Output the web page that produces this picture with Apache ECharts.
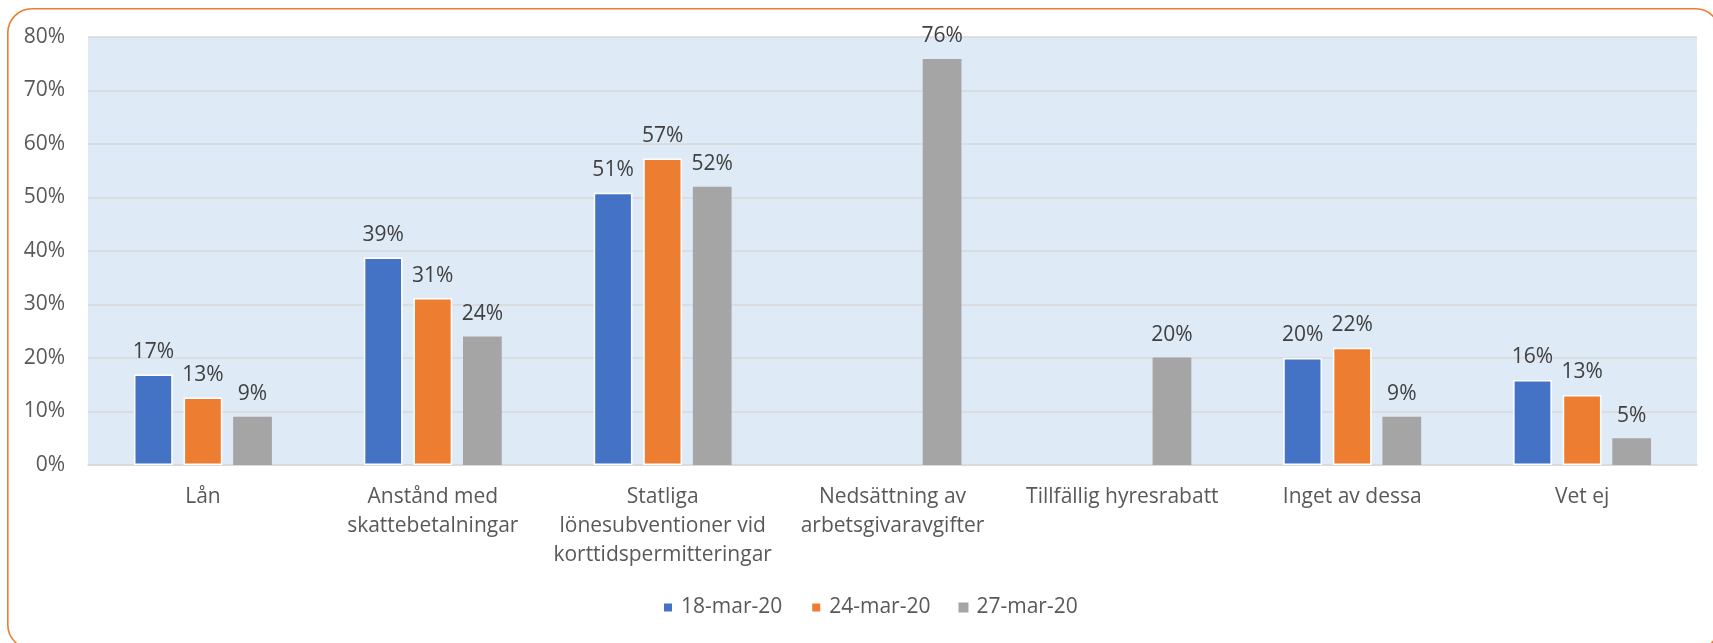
<!DOCTYPE html>
<html>
<head>
<meta charset="utf-8">
<script src="https://cdn.jsdelivr.net/npm/echarts@6/dist/echarts.min.js"></script>
<style>
html,body{margin:0;padding:0;background:#fff;}
#c{width:1713px;height:643px;}
</style>
</head>
<body>
<div id="c"></div>
<script>
const categories = ['Lån', 'Anstånd med\nskattebetalningar', 'Statliga\nlönesubventioner vid\nkorttidspermitteringar', 'Nedsättning av\narbetsgivaravgifter', 'Tillfällig hyresrabatt', 'Inget av dessa', 'Vet ej'];
const seriesNames = ['18-mar-20', '24-mar-20', '27-mar-20'];
const mar18 = [16.9, 38.8, 50.9, null, null, 20.0, 15.9];
const mar24 = [12.6, 31.2, 57.3, null, null, 21.9, 13.1];
const mar27 = [9.0, 24.0, 52.0, 75.9, 20.1, 9.0, 5.0];
const yTicks = [0, 10, 20, 30, 40, 50, 60, 70, 80];

const colors = ['#4472C4', '#ED7D31', '#A5A5A5'];
const FONT = 'Open Sans';
const FS = 21;
const chart = echarts.init(document.getElementById('c'), null, {renderer: 'canvas'});

function mkSeries(name, data, i) {
  return {
    name: name,
    type: 'bar',
    data: data,
    barGap: '28%',
    barCategoryGap: '40%',
    itemStyle: {color: colors[i], borderColor: '#ffffff', borderWidth: i === 2 ? 0 : 1.5},
    label: {
      show: true, position: 'top', distance: 12,
      fontFamily: FONT, fontSize: FS, color: '#404040',
      formatter: p => (p.value == null ? '' : Math.round(p.value) + '%')
    }
  };
}

chart.setOption({
  animation: false,
  backgroundColor: '#ffffff',
  graphic: [{
    type: 'rect', left: 7, top: 8, z: -10,
    shape: {x: 0, y: 0, width: 1712, height: 640, r: 24},
    style: {fill: '#ffffff', stroke: '#ED7D31', lineWidth: 1.6}
  }],
  color: colors,
  legend: {
    data: seriesNames,
    left: 662, top: 597, padding: 0,
    icon: 'rect', itemWidth: 10, itemHeight: 10, itemGap: 28,
    textStyle: {fontFamily: FONT, fontSize: FS, color: '#595959', padding: [0, 0, 0, 3]}
  },
  grid: {
    left: 88, right: 16, top: 37, bottom: 178,
    show: true, backgroundColor: '#DEEAF6', borderWidth: 0
  },
  xAxis: {
    type: 'category',
    data: categories,
    axisLine: {show: true, lineStyle: {color: '#D9D9D9', width: 1.5}},
    axisTick: {show: false},
    axisLabel: {
      interval: 0, margin: 18, fontFamily: FONT, fontSize: FS, color: '#595959',
      lineHeight: 29, align: 'center'
    }
  },
  yAxis: {
    type: 'value', min: 0, max: 80, interval: 10,
    axisLine: {show: false}, axisTick: {show: false},
    splitLine: {lineStyle: {color: '#D9D9D9', width: 1.5}},
    axisLabel: {
      margin: 23, fontFamily: FONT, fontSize: FS, color: '#595959',
      formatter: v => (yTicks.indexOf(v) >= 0 ? v + '%' : '')
    }
  },
  series: [
    mkSeries(seriesNames[0], mar18, 0),
    mkSeries(seriesNames[1], mar24, 1),
    mkSeries(seriesNames[2], mar27, 2)
  ]
});
</script>
</body>
</html>
